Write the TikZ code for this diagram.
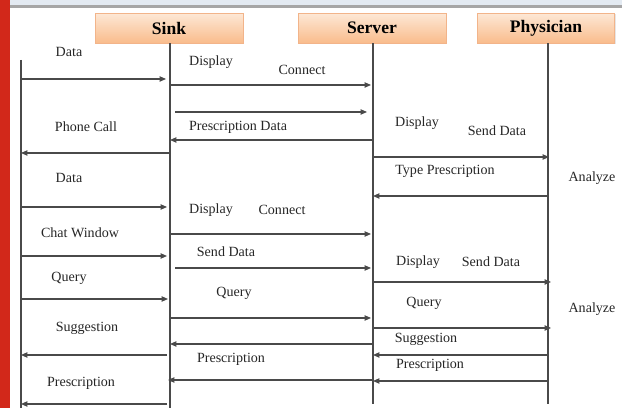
\documentclass[tikz,border=0pt]{standalone}
\usepackage{fontspec}
\setmainfont{Liberation Serif}
\usepackage{tikz}
\usetikzlibrary{arrows.meta, shadows}

\definecolor{headtop}{HTML}{FDE8D6}
\definecolor{headbot}{HTML}{F9BC8C}
\definecolor{headedge}{HTML}{F2B48A}
\definecolor{sidered}{HTML}{D2281A}
\definecolor{topband}{HTML}{E3EAF2}
\definecolor{topline}{HTML}{A6A6A6}
\definecolor{lineclr}{HTML}{4A4A4A}

\begin{document}
\begin{tikzpicture}[x=0.02cm, y=-0.02cm,
  head/.style={draw=headedge, line width=0.3pt, top color=headtop, bottom color=headbot,
    minimum height=17pt, inner sep=0pt, font=\bfseries\fontsize{10}{12}\selectfont,
    drop shadow={opacity=0.2, shadow xshift=0.8pt, shadow yshift=-0.8pt}},
  life/.style={draw=lineclr, line width=0.6pt},
  msg/.style={draw=lineclr, line width=0.6pt, -{Triangle[length=3.6pt,width=3pt]}},
  lbl/.style={font=\fontsize{8}{10}\selectfont, text=black!85, inner sep=0pt}]
\useasboundingbox (0,0) rectangle (622,408);
% frame of the screenshot
\fill[topband] (0,0) rectangle (622,5.5);
\fill[topline] (0,5.5) rectangle (622,8);
\fill[sidered] (0,0) rectangle (9.5,408);

% heads and lifelines
\node[head, minimum width=84pt] (sink) at (169,28) {Sink};
\node[head, minimum width=84pt] (server) at (372,28) {Server};
\node[head, minimum width=78pt] (phys) at (546,28) {Physician};
\coordinate (usertop) at (21,60);
\coordinate (userend) at (21,408);
\coordinate (sinkend) at (170,408);
\coordinate (serverend) at (373,404);
\coordinate (physend) at (548,404);
\draw[life] (usertop) -- (userend);
\draw[life] (sink.south -| sinkend) -- (sinkend);
\draw[life] (server.south -| serverend) -- (serverend);
\draw[life] (phys.south -| physend) -- (physend);

% messages
\foreach \i/\xa/\xb/\y in {1/21/166/79, 2/170/371/85, 3/175/367/112, 4/373/170/140,
    5/170/21/153, 6/373/549/157, 7/548/373/196, 8/21/167/207, 9/170/371/234,
    10/22/167/256, 11/175/371/268, 12/373/551/282, 13/21/168/299, 14/170/371/318,
    15/373/551/328, 16/373/170/344, 17/167/21/355, 18/548/373/355, 19/373/168/380,
    20/548/373/381, 21/167/21/404}{
  \coordinate (a\i) at (\xa,\y);
  \coordinate (b\i) at (\xb,\y);
  \draw[msg] (a\i) -- (b\i);
}

% labels
\node[lbl] (l1) at (69,52) {Data};
\node[lbl] (l2) at (211,62) {Display};
\node[lbl] (l3) at (302,70) {Connect};
\node[lbl] (l4) at (86,127) {Phone Call};
\node[lbl] (l5) at (238,127) {Prescription Data};
\node[lbl] (l6) at (417,123) {Display};
\node[lbl] (l7) at (497,131) {Send Data};
\node[lbl] (l8) at (445,171) {Type Prescription};
\node[lbl] (l9) at (592,178) {Analyze};
\node[lbl] (l10) at (69,178) {Data};
\node[lbl] (l11) at (211,210) {Display};
\node[lbl] (l12) at (282,210) {Connect};
\node[lbl] (l13) at (80,233) {Chat Window};
\node[lbl] (l14) at (226,252) {Send Data};
\node[lbl] (l15) at (418,262) {Display};
\node[lbl] (l16) at (491,262) {Send Data};
\node[lbl] (l17) at (69,278) {Query};
\node[lbl] (l18) at (234,293) {Query};
\node[lbl] (l19) at (424,303) {Query};
\node[lbl] (l20) at (592,309) {Analyze};
\node[lbl] (l21) at (87,328) {Suggestion};
\node[lbl] (l22) at (426,339) {Suggestion};
\node[lbl] (l23) at (231,359) {Prescription};
\node[lbl] (l24) at (430,365) {Prescription};
\node[lbl] (l25) at (81,383) {Prescription};
\end{tikzpicture}
\end{document}
